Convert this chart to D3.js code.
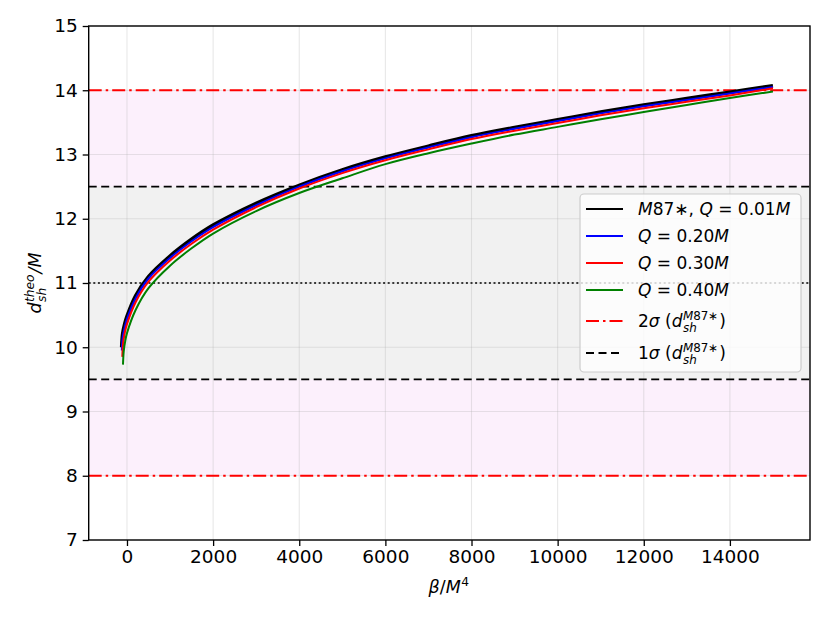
<!DOCTYPE html>
<html>
<head>
<meta charset="utf-8">
<script src="https://cdn.jsdelivr.net/npm/d3@7"></script>
<style>
  body { margin: 0; background: #fff; }
  text { font-family: "DejaVu Sans", sans-serif; fill: #000; }
</style>
</head>
<body>
<script>
// ---------- data
var xTicks = [0, 2000, 4000, 6000, 8000, 10000, 12000, 14000];
var yTicks = [7, 8, 9, 10, 11, 12, 13, 14, 15];

var betaBlack = [-123, -100, -50, 0, 200, 500, 1000, 1500, 2000, 3000, 4000, 5000, 6000, 7000, 8000, 9000, 10000, 11000, 12000, 13000, 14000, 15000];
var dBlack    = [10.00, 10.21, 10.37, 10.48, 10.80, 11.10, 11.42, 11.68, 11.90, 12.24, 12.52, 12.76, 12.96, 13.13, 13.29, 13.42, 13.54, 13.66, 13.77, 13.87, 13.97, 14.07];

var betaBlue  = [-120, -100, -50, 0, 200, 500, 1000, 1500, 2000, 3000, 4000, 5000, 6000, 7000, 8000, 9000, 10000, 11000, 12000, 13000, 14000, 15000];
var dBlue     = [9.95, 10.15, 10.32, 10.44, 10.76, 11.07, 11.39, 11.65, 11.87, 12.21, 12.50, 12.74, 12.94, 13.11, 13.27, 13.40, 13.52, 13.64, 13.75, 13.85, 13.95, 14.05];

var betaRed   = [-109, -90, -50, 0, 200, 500, 1000, 1500, 2000, 3000, 4000, 5000, 6000, 7000, 8000, 9000, 10000, 11000, 12000, 13000, 14000, 15000];
var dRed      = [9.85, 10.06, 10.23, 10.36, 10.70, 11.02, 11.35, 11.61, 11.83, 12.18, 12.47, 12.71, 12.91, 13.08, 13.24, 13.37, 13.49, 13.61, 13.72, 13.82, 13.92, 14.03];

var betaGreen = [-93, -75, -40, 0, 200, 500, 1000, 1500, 2000, 3000, 4000, 5000, 6000, 7000, 8000, 9000, 10000, 11000, 12000, 13000, 14000, 15000];
var dGreen    = [9.73, 9.94, 10.10, 10.22, 10.58, 10.92, 11.27, 11.54, 11.77, 12.12, 12.40, 12.63, 12.85, 13.02, 13.17, 13.31, 13.43, 13.55, 13.66, 13.77, 13.88, 13.98];

var sigma2 = [8, 14];     // red dash-dot lines, pink band
var sigma1 = [9.5, 12.5]; // black dashed lines, gray band
var meanLine = 11;        // dotted line

// ---------- size
var w = 830, h = 623;
var padL = 88.7, padR = 810, padT = 26, padB = 540;

var xScale = d3.scaleLinear().domain([-889, 15860]).range([padL, padR]);
var yScale = d3.scaleLinear().domain([7, 15]).range([padB, padT]);

var svg = d3.select("body").append("svg")
  .attr("width", w).attr("height", h);

// bands
svg.append("rect")
  .attr("x", padL).attr("width", padR - padL)
  .attr("y", yScale(sigma2[1])).attr("height", yScale(sigma2[0]) - yScale(sigma2[1]))
  .attr("fill", "#fcf0fc");
svg.append("rect")
  .attr("x", padL).attr("width", padR - padL)
  .attr("y", yScale(sigma1[1])).attr("height", yScale(sigma1[0]) - yScale(sigma1[1]))
  .attr("fill", "#f1f1f1");

// grid
var grid = svg.append("g").attr("stroke", "rgba(176,176,176,0.3)").attr("stroke-width", 1.1);
grid.selectAll(".gx").data(xTicks).enter().append("line")
  .attr("x1", function(d) { return xScale(d); }).attr("x2", function(d) { return xScale(d); })
  .attr("y1", padT).attr("y2", padB);
grid.selectAll(".gy").data(yTicks).enter().append("line")
  .attr("y1", function(d) { return yScale(d); }).attr("y2", function(d) { return yScale(d); })
  .attr("x1", padL).attr("x2", padR);

// horizontal reference lines
function hline(v, color, dash, width) {
  svg.append("line")
    .attr("x1", padL).attr("x2", padR)
    .attr("y1", yScale(v)).attr("y2", yScale(v))
    .attr("stroke", color).attr("stroke-width", width)
    .attr("stroke-dasharray", dash);
}
sigma2.forEach(function(v) { hline(v, "#ff0000", "13,4,2.5,4", 1.8); });
sigma1.forEach(function(v) { hline(v, "#000", "8,4.5", 1.8); });
hline(meanLine, "#000", "2,2.6", 1.6);

// curves
var line = d3.line()
  .x(function(d) { return xScale(d[0]); })
  .y(function(d) { return yScale(d[1]); })
  .curve(d3.curveCatmullRom.alpha(0.5));

var series = [
  { b: betaBlack, d: dBlack, color: "#000000", width: 3.6 },
  { b: betaBlue,  d: dBlue,  color: "#0000ff", width: 2 },
  { b: betaRed,   d: dRed,   color: "#ff0000", width: 2 },
  { b: betaGreen, d: dGreen, color: "#008000", width: 2 }
];
series.forEach(function(s) {
  svg.append("path")
    .datum(d3.zip(s.b, s.d))
    .attr("d", line)
    .attr("fill", "none")
    .attr("stroke", s.color)
    .attr("stroke-width", s.width);
});

// axes
var xAxis = d3.axisBottom(xScale).tickValues(xTicks).tickSize(6).tickPadding(5).tickFormat(d3.format("d"));
var yAxis = d3.axisLeft(yScale).tickValues(yTicks).tickSize(6).tickPadding(5).tickFormat(d3.format("d"));

var gx = svg.append("g").attr("transform", "translate(0," + padB + ")").call(xAxis);
var gy = svg.append("g").attr("transform", "translate(" + padL + ",0)").call(yAxis);
[gx, gy].forEach(function(g) {
  g.select(".domain").remove();
  g.selectAll(".tick line").attr("stroke", "#000").attr("stroke-width", 1.3);
  g.selectAll(".tick text").attr("font-size", "18.5px").attr("font-family", "DejaVu Sans").attr("fill", "#000");
});
gx.selectAll(".tick text").attr("dy", "0.75em").attr("y", 9);
gy.selectAll(".tick text").attr("x", -11);

svg.append("rect")
  .attr("x", padL).attr("y", padT)
  .attr("width", padR - padL).attr("height", padB - padT)
  .attr("fill", "none").attr("stroke", "#000").attr("stroke-width", 1.4);

// mathtext-like label: parts are {t, it} or {sup:[[text,it]..], sub:[[text,it]..]}
function mathText(g, parts, size) {
  var grp = g.append("g");
  var x = 0;
  parts.forEach(function(p) {
    if (p.t !== undefined) {
      var el = grp.append("text").attr("x", x).attr("y", 0)
        .attr("font-size", size + "px")
        .attr("font-style", p.it ? "italic" : "normal")
        .attr("xml:space", "preserve")
        .text(p.t);
      x += el.node().getComputedTextLength();
    } else {
      var wMax = 0;
      [["sup", -size * 0.42], ["sub", size * 0.28]].forEach(function(k) {
        if (!p[k[0]]) return;
        var el = grp.append("text").attr("x", x + 0.5).attr("y", k[1])
          .attr("font-size", (size * 0.7) + "px");
        p[k[0]].forEach(function(q) {
          el.append("tspan").attr("font-style", q[1] ? "italic" : "normal").text(q[0]);
        });
        wMax = Math.max(wMax, el.node().getComputedTextLength());
      });
      x += wMax + 1.5;
    }
  });
  return { g: grp, width: x };
}

// x label
var xl = mathText(svg, [{ t: "β", it: true }, { t: "/", it: false }, { t: "M", it: true }, { sup: [["4", false]] }], 17.5);
xl.g.attr("transform", "translate(" + ((padL + padR) / 2 - xl.width / 2) + ",593)");

// y label
var ylg = svg.append("g").attr("transform", "translate(41,283) rotate(-90)");
var yl = mathText(ylg, [{ t: "d", it: true }, { sup: [["theo", true]], sub: [["sh", true]] }, { t: "/M", it: true }], 17.5);
yl.g.attr("transform", "translate(" + (-yl.width / 2) + ",0)");

// legend
var legendItems = [
  { color: "#000", dash: null, width: 2, parts: [{ t: "M", it: true }, { t: "87", it: false }, { t: "∗", it: false }, { t: ", ", it: false }, { t: "Q", it: true }, { t: " = 0.01", it: false }, { t: "M", it: true }] },
  { color: "#0000ff", dash: null, width: 2, parts: [{ t: "Q", it: true }, { t: " = 0.20", it: false }, { t: "M", it: true }] },
  { color: "#ff0000", dash: null, width: 2, parts: [{ t: "Q", it: true }, { t: " = 0.30", it: false }, { t: "M", it: true }] },
  { color: "#008000", dash: null, width: 2, parts: [{ t: "Q", it: true }, { t: " = 0.40", it: false }, { t: "M", it: true }] },
  { color: "#ff0000", dash: "13,4,2.5,4", width: 1.8, parts: [{ t: "2", it: false }, { t: "σ", it: true }, { t: " (", it: false }, { t: "d", it: true }, { sup: [["M", true], ["87∗", false]], sub: [["sh", true]] }, { t: ")", it: false }] },
  { color: "#000", dash: "8,4.5", width: 1.8, parts: [{ t: "1", it: false }, { t: "σ", it: true }, { t: " (", it: false }, { t: "d", it: true }, { sup: [["M", true], ["87∗", false]], sub: [["sh", true]] }, { t: ")", it: false }] }
];
var rowY = [209, 236, 263, 290, 321, 353];

svg.append("rect")
  .attr("x", 580).attr("y", 194).attr("width", 221).attr("height", 178)
  .attr("rx", 4).attr("fill", "rgba(255,255,255,0.8)")
  .attr("stroke", "#cccccc").attr("stroke-width", 1.2);

legendItems.forEach(function(it, i) {
  svg.append("line")
    .attr("x1", 586).attr("x2", 623)
    .attr("y1", rowY[i]).attr("y2", rowY[i])
    .attr("stroke", it.color).attr("stroke-width", it.width)
    .attr("stroke-dasharray", it.dash);
  var m = mathText(svg, it.parts, 17);
  m.g.attr("transform", "translate(638," + (rowY[i] + 6) + ")");
});
</script>
</body>
</html>
